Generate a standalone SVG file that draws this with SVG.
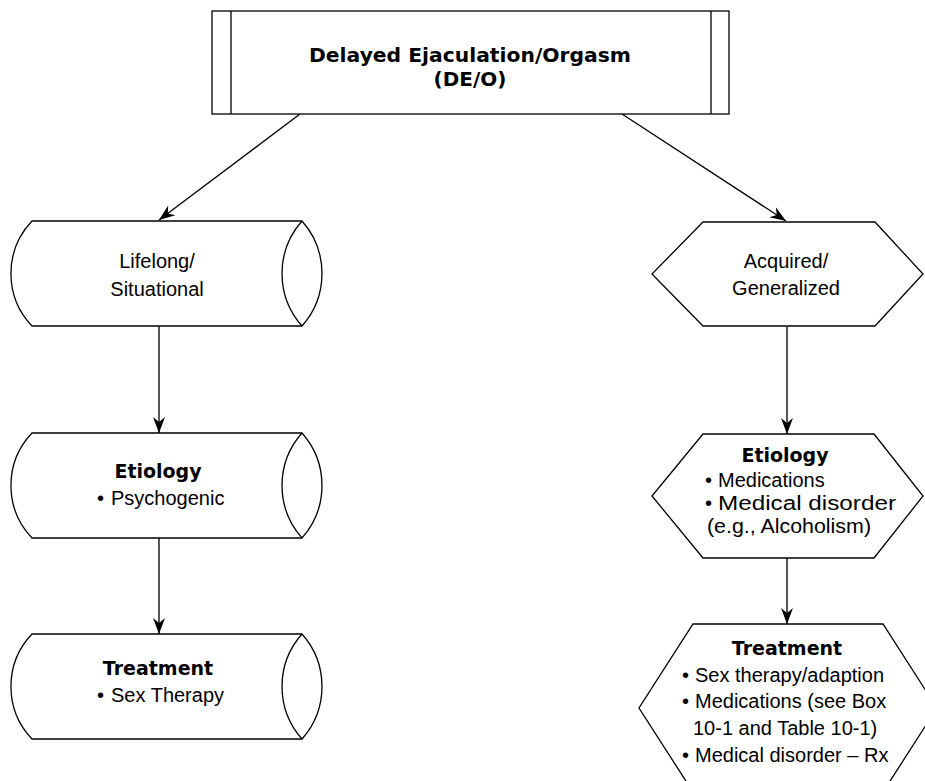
<svg xmlns="http://www.w3.org/2000/svg" width="925" height="781" viewBox="0 0 925 781">
<style>
.shape{fill:#fff;stroke:#000;stroke-width:1.3}
.conn{fill:none;stroke:#000;stroke-width:1.3}
.vconn{fill:none;stroke:#444;stroke-width:1.8}
.b{font-family:"DejaVu Sans",sans-serif;font-weight:bold;font-size:19px;fill:#000}
.t{font-size:20px}
.r{font-family:"Liberation Sans",Arial,sans-serif;font-size:20px;fill:#000}
.m{text-anchor:middle}
</style>
<defs>
<marker id="ah" markerUnits="userSpaceOnUse" markerWidth="20" markerHeight="16" viewBox="-16 -8 18 16" refX="0" refY="0" orient="auto">
<path d="M0,0 L-16,-6 L-11,0 L-16,6 Z" fill="#000"/>
</marker>
</defs>
<rect width="925" height="781" fill="#fff"/>
<g id="connectors">
<line class="conn" x1="300" y1="114" x2="159" y2="220" marker-end="url(#ah)"/>
<line class="conn" x1="622" y1="114" x2="786" y2="221" marker-end="url(#ah)"/>
<line class="vconn" x1="159" y1="326" x2="159" y2="433" marker-end="url(#ah)"/>
<line class="vconn" x1="159" y1="538" x2="159" y2="634" marker-end="url(#ah)"/>
<line class="vconn" x1="787" y1="327" x2="787" y2="434" marker-end="url(#ah)"/>
<line class="vconn" x1="787" y1="558" x2="787" y2="624" marker-end="url(#ah)"/>
</g>
<g id="node-deo">
<rect class="shape" x="212" y="11" width="517" height="103"/>
<line class="conn" x1="231" y1="11" x2="231" y2="114"/>
<line class="conn" x1="711" y1="11" x2="711" y2="114"/>
<text class="b t m" x="470" y="62" textLength="322" lengthAdjust="spacingAndGlyphs">Delayed Ejaculation/Orgasm</text>
<text class="b t m" x="470" y="86">(DE/O)</text>
</g>
<g id="node-lifelong">
<path class="shape" d="M32,221 H302 A79,79 0 0 1 302,326 H32 A76,76 0 0 1 32,221 Z"/>
<path class="conn" d="M302,221 A79,79 0 0 0 302,326"/>
<text class="r m" x="157" y="268">Lifelong/</text>
<text class="r m" x="157" y="296">Situational</text>
</g>
<g id="node-etiology-left">
<path class="shape" d="M32,433 H302 A79,79 0 0 1 302,538 H32 A76,76 0 0 1 32,433 Z"/>
<path class="conn" d="M302,433 A79,79 0 0 0 302,538"/>
<text class="b m" x="158" y="478">Etiology</text>
<text class="r" x="97" y="505">•<tspan x="111">Psychogenic</tspan></text>
</g>
<g id="node-treatment-left">
<path class="shape" d="M32,634 H302 A79,79 0 0 1 302,739 H32 A76,76 0 0 1 32,634 Z"/>
<path class="conn" d="M302,634 A79,79 0 0 0 302,739"/>
<text class="b m" x="158" y="675">Treatment</text>
<text class="r" x="97" y="702">•<tspan x="111">Sex Therapy</tspan></text>
</g>
<g id="node-acquired">
<path class="shape" d="M703,222 H875 L923,274 L875,326 H703 L652,274 Z"/>
<text class="r m" x="786" y="268">Acquired/</text>
<text class="r m" x="786" y="295">Generalized</text>
</g>
<g id="node-etiology-right">
<path class="shape" d="M703,434 H874 L923,496 L874,558 H703 L652,496 Z"/>
<text class="b m" x="785" y="462">Etiology</text>
<text class="r" x="705" y="487">•<tspan x="718">Medications</tspan></text>
<text class="r" x="705" y="510">•<tspan x="718" textLength="178" lengthAdjust="spacingAndGlyphs">Medical disorder</tspan></text>
<text class="r" x="707" y="533" textLength="164" lengthAdjust="spacingAndGlyphs">(e.g., Alcoholism)</text>
</g>
<g id="node-treatment-right">
<path class="shape" d="M693,624 H883 L937,708 L883,792 H693 L639,708 Z"/>
<text class="b m" x="787" y="655">Treatment</text>
<text class="r" x="682" y="682">•<tspan x="695">Sex therapy/adaption</tspan></text>
<text class="r" x="682" y="708">•<tspan x="695">Medications (see Box</tspan></text>
<text class="r" x="693" y="735">10-1 and Table 10-1)</text>
<text class="r" x="682" y="762">•<tspan x="695">Medical disorder – Rx</tspan></text>
</g>
</svg>
